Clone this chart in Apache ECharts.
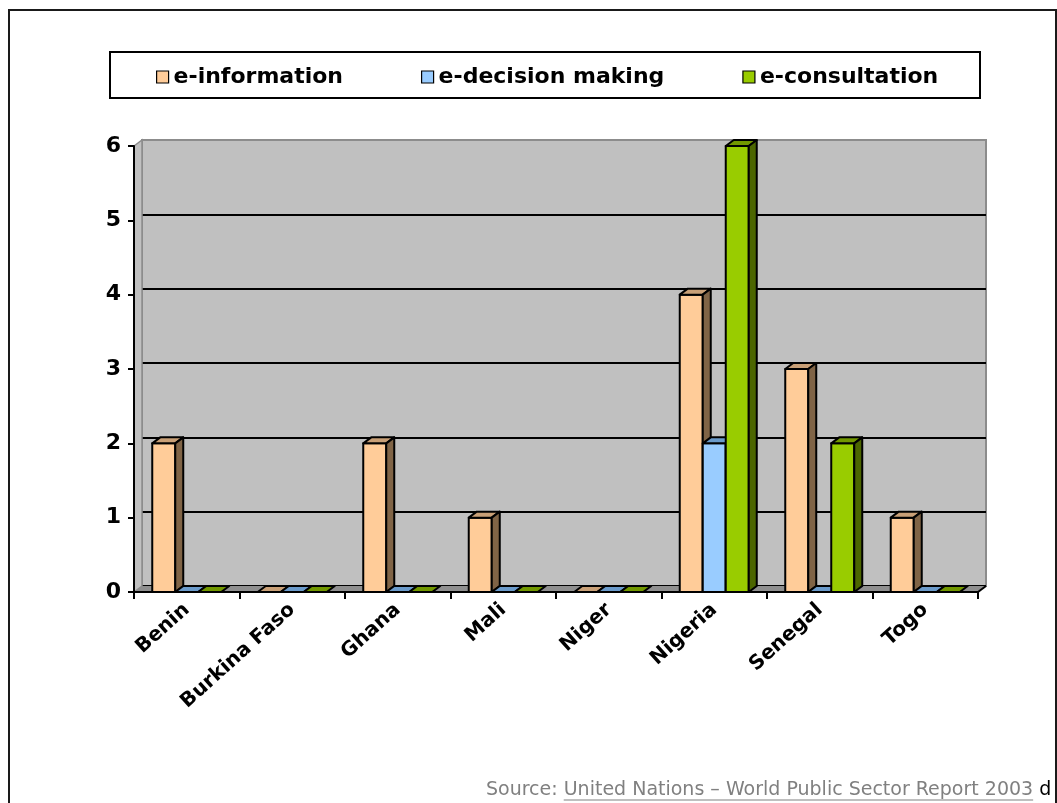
<!DOCTYPE html>
<html>
<head>
<meta charset="utf-8">
<title>E-government features by country</title>
<script src="https://cdn.jsdelivr.net/npm/echarts@6/dist/echarts.min.js"></script>
<style>
  html, body { margin: 0; padding: 0; background: #fff; }
  #chart { width: 1057px; height: 803px; }
</style>
</head>
<body>
<div id="chart"></div>
<script>
// Countries and the number of e-participation features found for each
const categories = ['Benin', 'Burkina Faso', 'Ghana', 'Mali', 'Niger', 'Nigeria', 'Senegal', 'Togo'];
const eInformation = [2, 0, 2, 1, 0, 4, 3, 1];
const eDecisionMaking = [0, 0, 0, 0, 0, 2, 0, 0];
const eConsultation = [0, 0, 0, 0, 0, 6, 2, 0];
const seriesNames = ['e-information', 'e-decision making', 'e-consultation'];
const yTicks = [0, 1, 2, 3, 4, 5, 6];

const sourceLabel = 'Source: ';
const sourceLink = 'United Nations – World Public Sector Report 2003';
const sourceTail = ' d';

// Face colours for the pseudo-3D columns: front, top, side
const palettes = [
  { front: '#FFCC99', top: '#C9A077', side: '#806446' },
  { front: '#99CCFF', top: '#6B9BCB', side: '#4D6680' },
  { front: '#99CC00', top: '#729800', side: '#4C6600' }
];

// Depth of the 3D extrusion in pixels
const DX = 8, DY = -6;
const BAR_RATIO = 0.218;
const FRONT = { left: 134, right: 79, top: 146, bottom: 211 };
const BOLD = 'DejaVu Sans';

const chart = echarts.init(document.getElementById('chart'), null, { renderer: 'canvas' });

function seriesData(values) {
  return values.map((v, i) => [i, v]);
}

const edge = { stroke: '#000', lineWidth: 2, lineJoin: 'round' };

function columnRenderer(pos, pal) {
  return function (params, api) {
    const cat = api.value(0);
    const v = api.value(1);
    const base = api.coord([cat, 0]);
    const top = api.coord([cat, v]);
    const bw = api.size([1, 0])[0] * BAR_RATIO;
    const x0 = base[0] + (pos - 1) * bw - bw / 2;
    const x1 = x0 + bw;
    const yb = base[1];
    const yt = top[1];
    const topFace = {
      type: 'polygon',
      shape: { points: [[x0, yt], [x0 + DX, yt + DY], [x1 + DX, yt + DY], [x1, yt]] },
      style: Object.assign({ fill: pal.top }, edge)
    };
    if (v <= 0) {
      return { type: 'group', children: [topFace] };
    }
    return {
      type: 'group',
      children: [
        {
          type: 'rect',
          shape: { x: x0, y: yt, width: bw, height: yb - yt },
          style: Object.assign({ fill: pal.front }, edge)
        },
        topFace,
        {
          type: 'polygon',
          shape: { points: [[x1, yt], [x1 + DX, yt + DY], [x1 + DX, yb + DY], [x1, yb]] },
          style: Object.assign({ fill: pal.side }, edge)
        }
      ]
    };
  };
}

// Floor and left side wall of the 3D box, taken from the front grid rectangle
function wallRenderer(params) {
  const r = params.coordSys;
  const xl = r.x, xr = r.x + r.width, yt = r.y, yb = r.y + r.height;
  return {
    type: 'group',
    children: [
      {
        type: 'polygon',
        shape: { points: [[xl, yb], [xl + DX, yb + DY], [xr + DX, yb + DY], [xr, yb]] },
        style: { fill: '#8F8F8F', stroke: null }
      },
      {
        type: 'polygon',
        shape: { points: [[xl, yt], [xl + DX, yt + DY], [xl + DX, yb + DY], [xl, yb]] },
        style: { fill: '#C0C0C0', stroke: '#8C8C8C', lineWidth: 1.5 }
      },
      {
        type: 'line',
        shape: { x1: xr, y1: yb, x2: xr + DX, y2: yb + DY },
        style: { stroke: '#000', lineWidth: 2 }
      }
    ]
  };
}

const splitColors = yTicks.map((t, i) => (i === yTicks.length - 1 ? '#8C8C8C' : '#000'));

const columnSeries = [eInformation, eDecisionMaking, eConsultation].map((vals, i) => ({
  name: seriesNames[i],
  type: 'custom',
  xAxisIndex: 0,
  yAxisIndex: 0,
  z: 2,
  itemStyle: { color: palettes[i].front },
  encode: { x: 0, y: 1 },
  data: seriesData(vals),
  renderItem: columnRenderer(i, palettes[i])
}));

// Widths for the underline under the source link
const ctx = document.createElement('canvas').getContext('2d');
ctx.font = '19px "DejaVu Sans"';
const labelW = ctx.measureText(sourceLabel).width;
const linkW = ctx.measureText(sourceLink).width;
const SRC_X = 486, SRC_Y = 790;

const option = {
  backgroundColor: '#fff',
  animation: false,
  grid: [
    Object.assign({ containLabel: false, outerBoundsMode: 'none' }, FRONT),
    {
      left: FRONT.left + DX,
      right: FRONT.right - DX,
      top: FRONT.top + DY,
      bottom: FRONT.bottom - DY,
      show: true,
      backgroundColor: '#C0C0C0',
      borderColor: '#8C8C8C',
      borderWidth: 2,
      containLabel: false,
      outerBoundsMode: 'none'
    }
  ],
  legend: {
    left: 151,
    top: 61,
    icon: 'rect',
    itemWidth: 12,
    itemHeight: 12,
    itemGap: 78,
    data: seriesNames.map((n, i) => ({ name: n, itemStyle: { color: palettes[i].front, borderColor: '#000', borderWidth: 1.2 } })),
    textStyle: { fontFamily: BOLD, fontWeight: 'bold', fontSize: 22, color: '#000' }
  },
  xAxis: [
    {
      type: 'category',
      gridIndex: 0,
      data: categories,
      z: 3,
      axisLine: { show: true, lineStyle: { color: '#000', width: 2 } },
      axisTick: { show: true, length: 7, interval: 0, lineStyle: { color: '#000', width: 2 } },
      axisLabel: {
        interval: 0,
        rotate: 42,
        margin: 15,
        color: '#000',
        fontFamily: BOLD,
        fontWeight: 'bold',
        fontSize: 20
      },
      splitLine: { show: false }
    },
    {
      type: 'category',
      gridIndex: 1,
      data: categories,
      show: false
    }
  ],
  yAxis: [
    {
      type: 'value',
      gridIndex: 0,
      min: 0,
      max: 6,
      interval: 1,
      z: 3,
      axisLine: { show: true, lineStyle: { color: '#000', width: 2 } },
      axisTick: { show: true, length: 6, lineStyle: { color: '#000', width: 2 } },
      axisLabel: {
        margin: 13,
        color: '#000',
        fontFamily: BOLD,
        fontWeight: 'bold',
        fontSize: 22
      },
      splitLine: { show: false }
    },
    {
      type: 'value',
      gridIndex: 1,
      min: 0,
      max: 6,
      interval: 1,
      axisLine: { show: false },
      axisTick: { show: false },
      axisLabel: { show: false },
      splitLine: { show: true, lineStyle: { color: splitColors, width: 2 } }
    }
  ],
  graphic: [
    {
      type: 'rect',
      z: 0,
      silent: true,
      shape: { x: 9, y: 10, width: 1047, height: 900 },
      style: { fill: null, stroke: '#1a1a1a', lineWidth: 2 }
    },
    {
      type: 'rect',
      z: 0,
      silent: true,
      shape: { x: 110, y: 52, width: 870, height: 46 },
      style: { fill: '#fff', stroke: '#000', lineWidth: 2 }
    },
    {
      type: 'text',
      z: 1,
      silent: true,
      x: SRC_X,
      y: SRC_Y,
      style: {
        text: '{g|' + sourceLabel + '}{g|' + sourceLink + '}{k|' + sourceTail + '}',
        verticalAlign: 'middle',
        rich: {
          g: { fontFamily: 'DejaVu Sans', fontSize: 19, fill: '#808080' },
          k: { fontFamily: 'DejaVu Sans', fontSize: 19, fill: '#000' }
        }
      }
    },
    {
      type: 'line',
      z: 1,
      silent: true,
      shape: { x1: SRC_X + labelW, y1: SRC_Y + 10, x2: SRC_X + labelW + linkW, y2: SRC_Y + 10 },
      style: { stroke: '#808080', lineWidth: 1.2 }
    }
  ],
  series: [
    {
      name: 'walls',
      type: 'custom',
      xAxisIndex: 0,
      yAxisIndex: 0,
      z: 1,
      silent: true,
      data: [[0, 0]],
      renderItem: wallRenderer
    }
  ].concat(columnSeries)
};

chart.setOption(option);
</script>
</body>
</html>
